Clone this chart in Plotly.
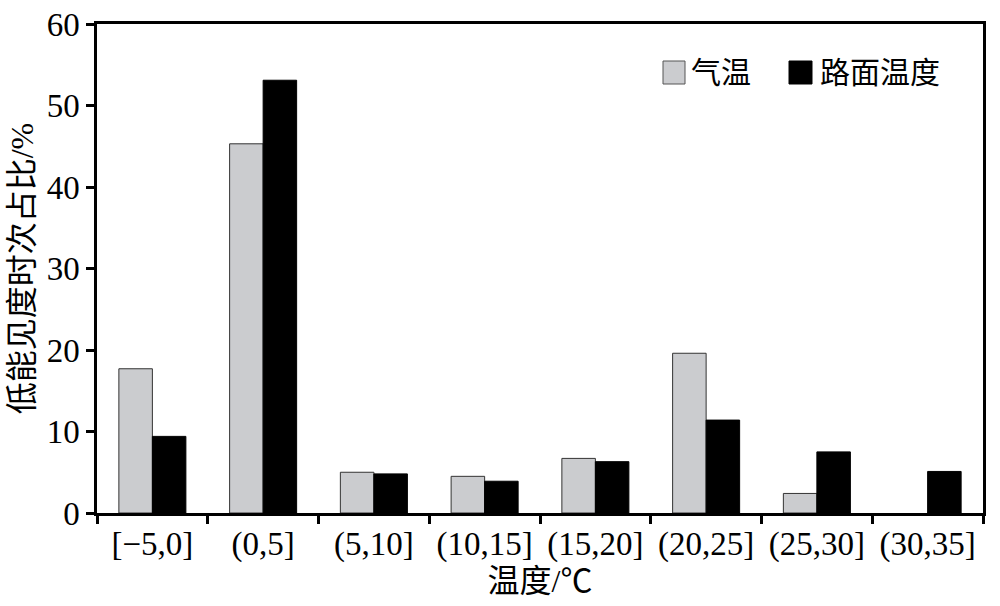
import plotly.graph_objects as go

categories = ["[\u22125,0]", "(0,5]", "(5,10]", "(10,15]", "(15,20]", "(20,25]", "(25,30]", "(30,35]"]
air_temp = [17.7, 45.3, 5.0, 4.5, 6.7, 19.6, 2.4, 0]
road_temp = [9.4, 53.1, 4.8, 3.9, 6.3, 11.4, 7.5, 5.1]
series_names = ["气温", "路面温度"]
y_ticks = [0, 10, 20, 30, 40, 50, 60]

FONT = "Liberation Serif, Times New Roman, Noto Sans CJK SC, serif"
W, H = 1000, 606
L, R, T, B = 97, 17, 24, 93
pw, ph = W - L - R, H - T - B

fig = go.Figure()
fig.add_trace(go.Bar(x=categories, y=air_temp, name=series_names[0],
                     marker=dict(color="#cbcccf",
                                 line=dict(color="#333333", width=[1 if v > 0 else 0 for v in air_temp])),
                     showlegend=False))
fig.add_trace(go.Bar(x=categories, y=road_temp, name=series_names[1],
                     marker=dict(color="#000000", line=dict(color="#000000", width=1)),
                     showlegend=False))

# manual legend (pixel -> paper)
def px(x):
    return (x - L) / pw
def py(y):
    return 1 - (y - T) / ph

legend_items = [(663, 685, "#cbcccf", "#555555", series_names[0], 689),
                 (789, 812, "#000000", "#000000", series_names[1], 818)]
for x0, x1, fc, lc, label, tx in legend_items:
    fig.add_shape(type="rect", xref="paper", yref="paper",
                  x0=px(x0), x1=px(x1), y0=py(84), y1=py(61),
                  fillcolor=fc, line=dict(color=lc, width=1))
    fig.add_annotation(xref="paper", yref="paper", x=px(tx), y=py(73),
                       text=label, showarrow=False, xanchor="left", yanchor="middle",
                       font=dict(family=FONT, size=30, color="#000"))

fig.update_layout(
    width=W, height=H,
    margin=dict(l=L, r=R, t=T, b=B),
    plot_bgcolor="white", paper_bgcolor="white",
    barmode="group", bargap=0.395, bargroupgap=0,
    font=dict(family=FONT, size=33, color="#000"),
)
fig.update_xaxes(
    automargin=False,
    showline=True, linecolor="#000", linewidth=2.5, mirror=True,
    ticks="outside", tickson="boundaries", ticklen=8, tickwidth=2.5, tickcolor="#000",
    showgrid=False,
    tickfont=dict(family=FONT, size=33),
    title=dict(text="温度/℃", font=dict(family=FONT, size=32), standoff=4),
)
fig.update_yaxes(
    automargin=False,
    range=[0, 60], tickvals=y_ticks,
    showline=True, linecolor="#000", linewidth=2.5, mirror=True,
    ticks="outside", ticklen=8, tickwidth=2.5, tickcolor="#000",
    showgrid=False, zeroline=False,
    tickfont=dict(family=FONT, size=33),
    title=dict(text="低能见度时次占比/%", font=dict(family=FONT, size=32), standoff=4),
)

fig.write_html("out.html", config={"displayModeBar": False},
               post_script="document.body.style.margin='0';")
